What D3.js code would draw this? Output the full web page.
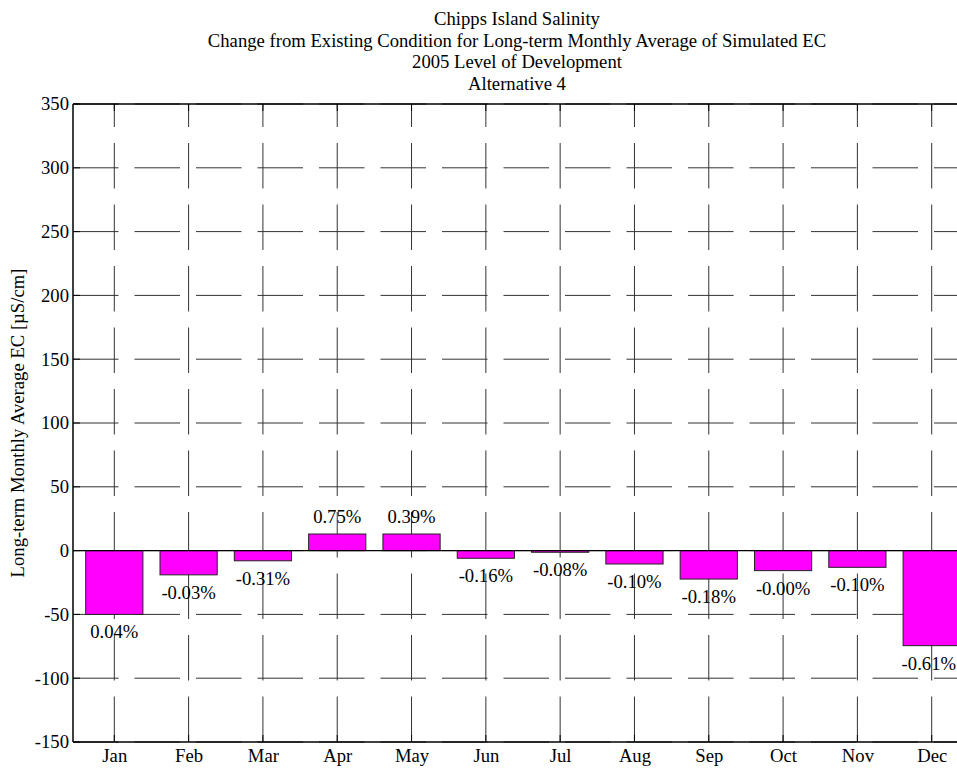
<!DOCTYPE html>
<html><head><meta charset="utf-8">
<script src="https://cdn.jsdelivr.net/npm/d3@7"></script>
<style>body{margin:0;background:#fff}text{font-family:"Liberation Serif","Times New Roman",serif;fill:#000}</style>
</head><body><svg id="c" width="957" height="768"></svg>
<script>
const months = ["Jan","Feb","Mar","Apr","May","Jun","Jul","Aug","Sep","Oct","Nov","Dec"];
const values = [-50, -19, -8, 13, 13, -6, -1.3, -10.5, -22.3, -15.7, -13.1, -74.5];
const pctLabels = ["0.04%","-0.03%","-0.31%","0.75%","0.39%","-0.16%","-0.08%","-0.10%","-0.18%","-0.00%","-0.10%","-0.61%"];
const yTicks = [-150,-100,-50,0,50,100,150,200,250,300,350];
const titleLines = ["Chipps Island Salinity","Change from Existing Condition for Long-term Monthly Average of Simulated EC","2005 Level of Development","Alternative 4"];
const yLabel = "Long-term Monthly Average EC [\u00B5S/cm]";

const W = 957;
const svg = d3.select("#c");
const L = 73, R = 961, T = 104, B = 742;
const fs = 18.67;
const x = d3.scaleLinear().domain([1, 12]).range([114.3, 931.7]);
const step = x(2) - x(1);
const y = d3.scaleLinear().domain([-150, 350]).range([B, T]);

// grid
const g = svg.append("g");
g.selectAll("line.h").data(yTicks).join("line")
  .attr("x1", L).attr("x2", R).attr("y1", d => y(d)).attr("y2", d => y(d))
  .attr("stroke", "#333").attr("stroke-width", 1).attr("stroke-dasharray", "45.5,16");
g.selectAll("line.v").data(months).join("line")
  .attr("x1", (d,i) => x(i+1)).attr("x2", (d,i) => x(i+1)).attr("y1", B).attr("y2", T)
  .attr("stroke", "#333").attr("stroke-width", 1).attr("stroke-dasharray", "45.5,16");

// bars
const bw = step * 0.77;
svg.selectAll("rect.bar").data(values).join("rect")
  .attr("x", (d,i) => x(i+1) - bw/2)
  .attr("y", d => y(Math.max(0, d)))
  .attr("width", bw)
  .attr("height", d => Math.abs(y(d) - y(0)))
  .attr("fill", "#ff00ff").attr("stroke", "#222").attr("stroke-width", 1);

// zero baseline
svg.append("line").attr("x1", L).attr("x2", R).attr("y1", y(0)).attr("y2", y(0))
  .attr("stroke", "#000").attr("stroke-width", 1.2);

// axes
const ax = svg.append("g");
ax.append("line").attr("x1", L).attr("x2", R).attr("y1", T).attr("y2", T).attr("stroke","#000").attr("stroke-width",1.5);
ax.append("line").attr("x1", L).attr("x2", R).attr("y1", B).attr("y2", B).attr("stroke","#000").attr("stroke-width",1.5);
ax.append("line").attr("x1", L).attr("x2", L).attr("y1", T).attr("y2", B).attr("stroke","#000").attr("stroke-width",1.5);

const yAxis = d3.axisLeft(y).tickValues(yTicks).tickSize(0).tickPadding(4).tickFormat(d => String(d));
const ya = svg.append("g").attr("transform", `translate(${L},0)`).call(yAxis);
ya.select(".domain").remove();
ya.selectAll("text").style("font-family", '"Liberation Serif",serif').style("font-size", fs+"px").attr("fill","#000");

const xAxis = d3.axisBottom(x).tickValues(d3.range(1,13)).tickSize(0).tickPadding(7).tickFormat(d => months[d-1]);
const xa = svg.append("g").attr("transform", `translate(0,${B})`).call(xAxis);
xa.select(".domain").remove();
xa.selectAll("text").style("font-family", '"Liberation Serif",serif').style("font-size", fs+"px").attr("fill","#000");

// inward ticks
svg.selectAll("line.yt").data(yTicks).join("line")
  .attr("x1", L).attr("x2", L+7).attr("y1", d => y(d)).attr("y2", d => y(d)).attr("stroke","#000");
svg.selectAll("line.xt").data(months).join("line")
  .attr("x1", (d,i)=>x(i+1)).attr("x2", (d,i)=>x(i+1)).attr("y1", B).attr("y2", B-7).attr("stroke","#000");
svg.selectAll("line.xt2").data(months).join("line")
  .attr("x1", (d,i)=>x(i+1)).attr("x2", (d,i)=>x(i+1)).attr("y1", T).attr("y2", T+7).attr("stroke","#000");

// value labels
const labs = svg.selectAll("text.lab").data(values).join("text")
  .attr("x", (d,i) => x(i+1))
  .attr("y", d => d < 0 ? y(d) + 24 : y(d) - 11)
  .attr("text-anchor", "middle")
  .style("font-size", fs+"px")
  .text((d,i) => pctLabels[i]);
// keep labels inside the page
labs.each(function() {
  const bb = this.getBBox();
  if (bb.x + bb.width > W - 1) {
    d3.select(this).attr("x", +d3.select(this).attr("x") - (bb.x + bb.width - (W - 1)));
  }
});

// title
const cx = (L + R) / 2;
svg.selectAll("text.title").data(titleLines).join("text")
  .attr("x", cx).attr("y", (d,i) => 25 + i*21.7)
  .attr("text-anchor", "middle").style("font-size", fs+"px").text(d => d);

// y label
svg.append("text").attr("transform", `translate(24,${(T+B)/2}) rotate(-90)`)
  .attr("text-anchor","middle").style("font-size", fs+"px").text(yLabel);
</script></body></html>
